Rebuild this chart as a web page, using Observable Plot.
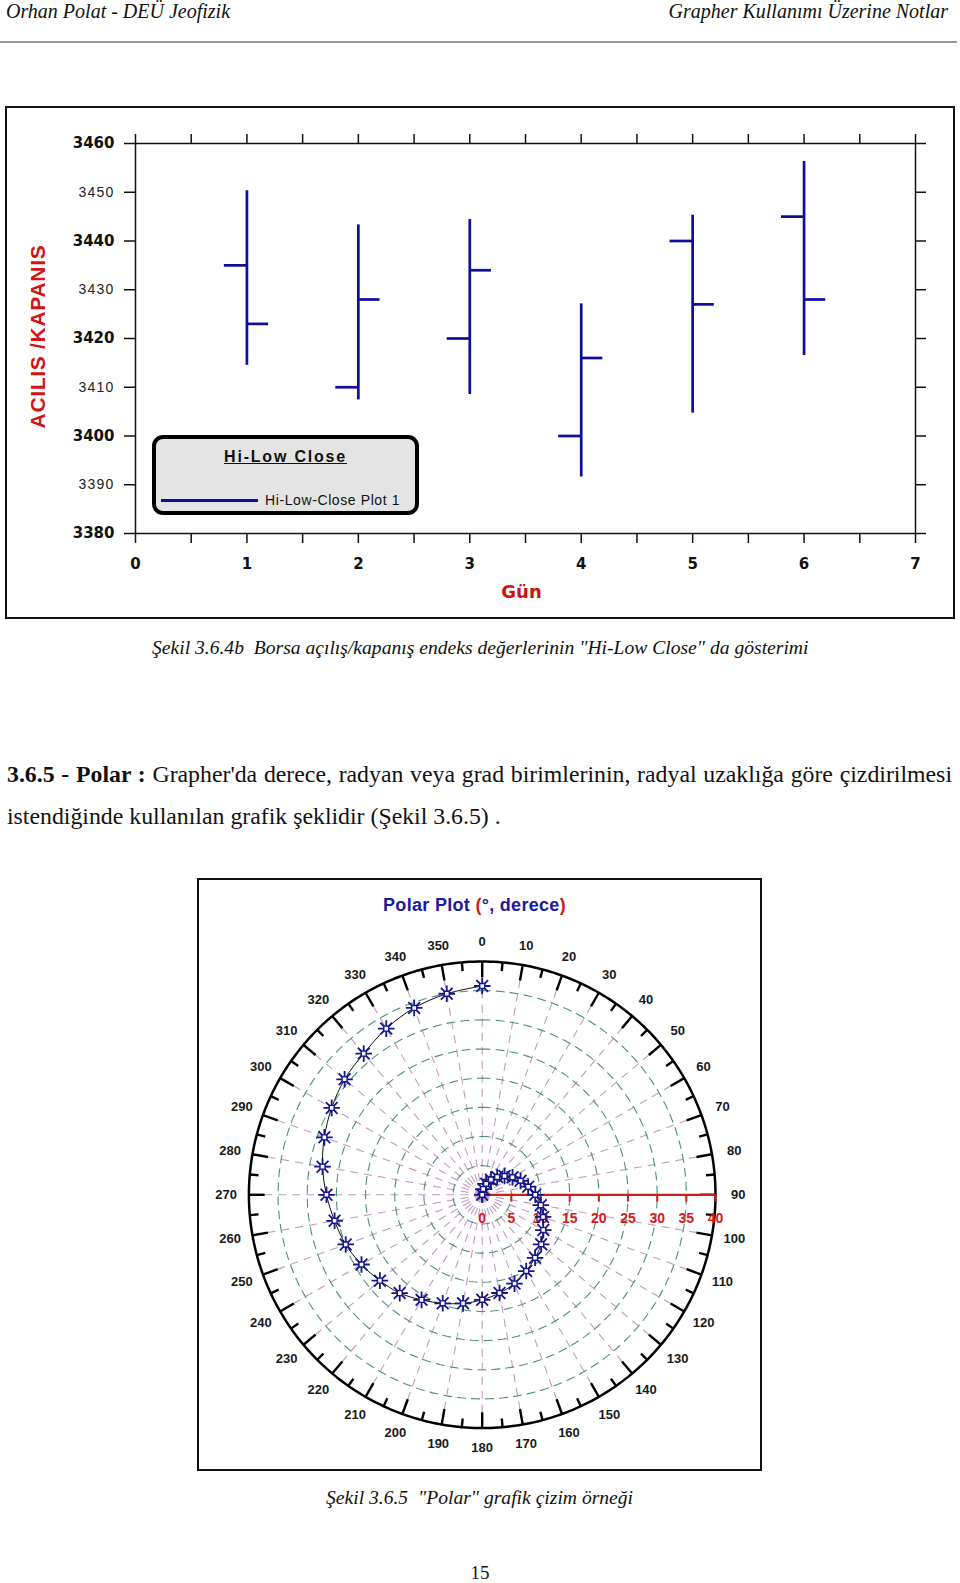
<!DOCTYPE html>
<html><head><meta charset="utf-8">
<script src="https://cdn.jsdelivr.net/npm/d3@7"></script>
<script src="https://cdn.jsdelivr.net/npm/@observablehq/plot@0.6"></script>
<style>
body{margin:0;background:#fff;}
#page{position:relative;width:960px;height:1583px;overflow:hidden;font-family:"Liberation Serif","Times New Roman",serif;color:#111;}
.abs{position:absolute;white-space:nowrap;}
.ital{font-style:italic;}
</style></head><body><div id="page">
<div class="abs ital" style="left:6px;top:0px;font-size:20px;line-height:22px;">Orhan Polat - DEÜ Jeofizik</div>
<div class="abs ital" style="right:12px;top:0px;font-size:20px;line-height:22px;">Grapher Kullanımı Üzerine Notlar</div>
<div class="abs" style="left:0;top:41px;width:957px;height:2px;background:#999;"></div>

<div id="c1" class="abs" style="left:5px;top:106px;width:946px;height:509px;border:2px solid #111;"></div>
<div class="abs" style="left:152px;top:435px;width:267px;height:80px;border:4px solid #000;border-radius:11px;background:#e4e4e4;box-sizing:border-box;"></div>
<div class="abs" style="left:152px;top:447px;width:267px;text-align:center;font-family:'Liberation Sans',Arial,sans-serif;font-weight:bold;font-size:16px;line-height:20px;letter-spacing:1.8px;text-decoration:underline;color:#111;">Hi-Low Close</div>
<div class="abs" style="left:161px;top:499px;width:97px;height:3px;background:#0d0d9e;"></div>
<div class="abs" style="left:265px;top:492px;font-family:'Liberation Sans',Arial,sans-serif;font-size:14px;line-height:16px;letter-spacing:0.6px;color:#111;">Hi-Low-Close Plot 1</div>

<div class="abs ital" style="left:152px;top:637px;font-size:19.6px;line-height:22px;">Şekil 3.6.4b&nbsp; Borsa açılış/kapanış endeks değerlerinin "Hi-Low Close" da gösterimi</div>

<div class="abs" style="left:7px;top:760px;width:945px;font-size:23.8px;line-height:28px;white-space:normal;text-align:justify;text-align-last:justify;"><b>3.6.5 - Polar :</b> Grapher'da derece, radyan veya grad birimlerinin, radyal uzaklığa göre çizdirilmesi</div>
<div class="abs" style="left:7px;top:802px;font-size:23.8px;line-height:28px;">istendiğinde kullanılan grafik şeklidir (Şekil 3.6.5) .</div>

<div id="c2" class="abs" style="left:197px;top:878px;width:561px;height:589px;border:2px solid #111;"></div>
<div class="abs" style="left:199px;top:894px;width:551px;text-align:center;font-family:'Liberation Sans',Arial,sans-serif;font-weight:bold;font-size:18px;line-height:22px;letter-spacing:0.3px;color:#1a1aa0;">Polar Plot <span style="color:#d01818">(</span>°, derece<span style="color:#d01818">)</span></div>

<div class="abs ital" style="left:326px;top:1487px;font-size:19.6px;line-height:22px;">Şekil 3.6.5&nbsp; "Polar" grafik çizim örneği</div>
<div class="abs" style="left:0;width:960px;text-align:center;top:1562px;font-size:19px;line-height:22px;">15</div>
</div>
<script>
// ---- Hi-Low-Close data ----
const days = [1, 2, 3, 4, 5, 6];
const openVals = [3435, 3410, 3420, 3400, 3440, 3445];
const highVals = [3450.3, 3443.3, 3444.4, 3427.1, 3445.3, 3456.3];
const lowVals = [3414.5, 3407.4, 3408.5, 3391.6, 3404.7, 3416.5];
const closeVals = [3423, 3428, 3434, 3416, 3427, 3428];
const xTicks = [0, 0.5, 1, 1.5, 2, 2.5, 3, 3.5, 4, 4.5, 5, 5.5, 6, 6.5, 7];
const yTicksBold = [3380, 3400, 3420, 3440, 3460];
const yTicksLight = [3390, 3410, 3430, 3450];

// ---- Polar data ----
const spiralAngle = [0,10,20,30,40,50,60,70,80,90,100,110,120,130,140,150,160,170,180,190,200,210,220,230,240,250,260,270,280,290,300,310,320,330,340,350,360];
const spiralR = [0,1,2,3,4,5,6,7,8,9.1,10.2,11.1,12.1,13.2,14.1,15.1,16.2,17.1,18,18.9,19.8,20.8,22,22.9,23.9,24.9,25.7,26.7,27.8,28.8,29.8,30.8,31.6,32.9,34.1,35,35.8];
const gridRadii = [5, 10, 15, 20, 25, 30, 35];
const degreeLabels = [0,10,20,30,40,50,60,70,80,90,100,110,120,130,140,150,160,170,180,190,200,210,220,230,240,250,260,270,280,290,300,310,320,330,340,350];
const radialLabels = [0, 5, 10, 15, 20, 25, 30, 35, 40];

const hlc = days.map((d, i) => ({day: d, open: openVals[i], high: highVals[i], low: lowVals[i], close: closeVals[i]}));
const navy = "#0d0d9e";
const fmt = d => String(d);

const chart1 = Plot.plot({
  width: 946, height: 509,
  marginLeft: 128, marginRight: 38, marginTop: 35, marginBottom: 84,
  x: {domain: [0, 7]},
  y: {domain: [3380, 3460]},
  style: {background: "transparent", fontFamily: "DejaVu Sans"},
  marks: [
    Plot.frame({stroke: "#111", strokeWidth: 1.5}),
    Plot.axisX({anchor: "top", ticks: xTicks, tickSize: 10, tickFormat: () => "", label: null, stroke: "#111", strokeWidth: 1.5}),
    Plot.axisX({anchor: "bottom", ticks: xTicks, tickSize: 10, tickPadding: 15, tickFormat: d => Number.isInteger(d) ? String(d) : "", label: null, stroke: "#111", strokeWidth: 1.5, fill: "#111", fontSize: 15, fontWeight: "bold", fontFamily: "DejaVu Sans"}),
    Plot.axisY({anchor: "left", ticks: yTicksBold, tickSize: 11, tickPadding: 10, tickFormat: fmt, label: null, stroke: "#111", strokeWidth: 1.5, fill: "#111", fontSize: 15, fontWeight: "bold", fontFamily: "DejaVu Sans"}),
    Plot.axisY({anchor: "left", ticks: yTicksLight, tickSize: 11, tickPadding: 10, tickFormat: fmt, label: null, stroke: "#111", strokeWidth: 1.5, fill: "#222", fontSize: 14, fontFamily: "Liberation Sans"}),
    Plot.axisY({anchor: "right", ticks: yTicksBold.concat(yTicksLight), tickSize: 10, tickFormat: () => "", label: null, stroke: "#111", strokeWidth: 1.5}),
    Plot.ruleX(hlc, {x: "day", y1: "low", y2: "high", stroke: navy, strokeWidth: 2.7}),
    Plot.link(hlc, {x1: d => d.day - 0.207, x2: "day", y1: "open", y2: "open", stroke: navy, strokeWidth: 2.7}),
    Plot.link(hlc, {x1: "day", x2: d => d.day + 0.19, y1: "close", y2: "close", stroke: navy, strokeWidth: 2.7}),
    Plot.text(["ACILIS /KAPANIS"], {frameAnchor: "left", textAnchor: "middle", lineAnchor: "middle", dx: -97, dy: -2, rotate: -90, text: d => d, fill: "#d01515", fontSize: 21, fontWeight: "bold", fontFamily: "Liberation Sans"}),
    Plot.text(["Gün"], {frameAnchor: "bottom", textAnchor: "middle", lineAnchor: "middle", dy: 59, dx: -4, text: d => d, fill: "#cc1111", fontSize: 18, fontWeight: "bold", fontFamily: "DejaVu Sans"})
  ]
});
document.getElementById("c1").appendChild(chart1);
d3.select(chart1).selectAll("text").each(function(){
  const t = this.textContent;
  if (t === "ACILIS /KAPANIS") this.style.letterSpacing = "0.7px";
  if (["3390","3410","3430","3450"].includes(t)) this.style.letterSpacing = "1.2px";
});

// ---- Polar chart ----
const rad = a => a * Math.PI / 180;
const px = (r, a) => r * Math.sin(rad(a));
const py = (r, a) => r * Math.cos(rad(a));
const spiral = spiralAngle.map((a, i) => ({a, r: spiralR[i]}));
const circlePts = gridRadii.flatMap(r => d3.range(0, 361, 2).map(a => ({r, a})));
const radialAngles = d3.range(0, 360, 10);
const red = "#d41a1a";
const mk = "#16168a";

const chart2 = Plot.plot({
  width: 561, height: 589,
  marginLeft: 49.4, marginRight: 45, marginTop: 81, marginBottom: 41.4,
  x: {domain: [-40, 40], axis: null},
  y: {domain: [-40, 40], axis: null},
  style: {background: "transparent", fontFamily: "Liberation Sans"},
  marks: [
    Plot.link(radialAngles, {x1: 0, y1: 0, x2: a => px(40, a), y2: a => py(40, a), stroke: "#c29ac2", strokeWidth: 1.1, strokeDasharray: "8,6"}),
    Plot.line(circlePts, {x: d => px(d.r, d.a), y: d => py(d.r, d.a), z: "r", stroke: "#4e8f77", strokeWidth: 1.1, strokeDasharray: "8,6"}),
    Plot.line(d3.range(0, 361, 1), {x: a => px(40, a), y: a => py(40, a), stroke: "#000", strokeWidth: 2.5}),
    Plot.link(d3.range(0, 360, 5), {x1: a => px(40, a), y1: a => py(40, a), x2: a => px(a % 10 === 0 ? 37.3 : 38.5, a), y2: a => py(a % 10 === 0 ? 37.3 : 38.5, a), stroke: "#000", strokeWidth: 2.4}),
    Plot.text(degreeLabels, {x: a => px(43.3 + 0.6 * Math.abs(Math.sin(rad(a))), a), y: a => py(43.3 + 0.6 * Math.abs(Math.sin(rad(a))), a), text: fmt, fill: "#1a1a1a", fontSize: 13, fontWeight: "bold"}),
    Plot.ruleY([0], {x1: 0, x2: 40, stroke: red, strokeWidth: 2.2}),
    Plot.ruleX(radialLabels, {x: d => d, y1: 0, y2: -1.25, stroke: red, strokeWidth: 2}),
    Plot.text(radialLabels, {x: d => d, y: 0, dy: 24, text: fmt, fill: red, fontSize: 14, fontWeight: "bold"}),
    Plot.line(spiral, {x: d => px(d.r, d.a), y: d => py(d.r, d.a), curve: "catmull-rom", stroke: "#111", strokeWidth: 1}),
    Plot.dot(spiral, {x: d => px(d.r, d.a), y: d => py(d.r, d.a), symbol: "plus", r: 5.4, stroke: mk, strokeWidth: 1.8}),
    Plot.dot(spiral, {x: d => px(d.r, d.a), y: d => py(d.r, d.a), symbol: "times", r: 5.4, stroke: mk, strokeWidth: 1.8}),
    Plot.dot(spiral, {x: d => px(d.r, d.a), y: d => py(d.r, d.a), symbol: "square", r: 2.8, stroke: mk, fill: "white", strokeWidth: 1.4})
  ]
});
document.getElementById("c2").appendChild(chart2);
</script>
</body></html>
